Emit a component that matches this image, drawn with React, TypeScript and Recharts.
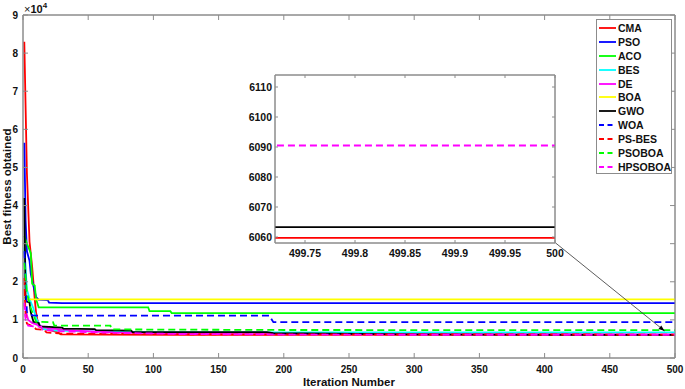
import { LineChart, Line, XAxis, YAxis, ReferenceLine, ReferenceArea } from "recharts";

// convergence curves: [iteration, best fitness]
const cma: [number, number][] = [
  [1, 83000], [3, 48500], [5, 30500], [7, 24000], [9, 15500], [10, 12000], [11, 10000],
  [13, 8200], [16, 7600], [22, 7200], [27, 6700], [29, 6200], [60, 6150], [120, 6100],
  [200, 6070], [300, 6062], [499, 6059.7], [500, 6059.7],
];
const pso: [number, number][] = [
  [1, 56500], [2, 36000], [3, 28000], [5, 25500], [6, 22000], [8, 19000], [10, 16000],
  [12, 15300], [19, 15200], [20, 14500], [30, 14400], [500, 14400],
];
const aco: [number, number][] = [
  [1, 32000], [3, 30000], [6, 27500], [7, 19500], [9, 19000], [10, 15500], [12, 13300],
  [96, 13300], [97, 12300], [113, 12300], [114, 11800], [500, 11800],
];
const bes: [number, number][] = [
  [1, 29000], [3, 18000], [5, 15500], [8, 13000], [10, 10500], [13, 8500], [16, 7600],
  [25, 7200], [60, 6900], [100, 6750], [200, 6700], [500, 6700],
];
const de: [number, number][] = [
  [1, 14000], [2, 12500], [4, 10000], [7, 9200], [10, 8800], [14, 8300], [20, 7800],
  [40, 7200], [70, 6700], [120, 6400], [200, 6250], [500, 6200],
];
const boa: [number, number][] = [[1, 16000], [3, 15400], [500, 15400]];
const gwo: [number, number][] = [
  [1, 42000], [2, 15000], [5, 14500], [6, 12000], [8, 9500], [12, 9200], [13, 8300],
  [30, 8000], [31, 7700], [55, 7600], [56, 7300], [83, 7200], [84, 6800], [187, 6800],
  [192, 6500], [300, 6200], [400, 6100], [499, 6063.3], [500, 6063.3],
];
const woa: [number, number][] = [
  [1, 28000], [2, 20000], [3, 12000], [5, 11500], [8, 11100], [189, 11100], [190, 10500],
  [192, 9400], [500, 9400],
];
const psBes: [number, number][] = [
  [1, 21000], [2, 11000], [3, 9000], [8, 8200], [10, 7600], [16, 7400], [18, 6700],
  [30, 6400], [100, 6250], [200, 6200], [500, 6150],
];
const psoboa: [number, number][] = [
  [1, 25000], [3, 17000], [6, 13000], [9, 10500], [10, 9500], [23, 9400], [24, 8500],
  [67, 8500], [68, 7500], [200, 7350], [500, 7300],
];
const hpsoboa: [number, number][] = [
  [1, 14500], [2, 10000], [4, 8500], [8, 8300], [14, 8200], [15, 7400], [30, 7000],
  [70, 6600], [120, 6300], [200, 6150], [300, 6100], [499, 6090.5], [500, 6090.5],
];

const seriesValues = [cma, pso, aco, bes, de, boa, gwo, woa, psBes, psoboa, hpsoboa];
const seriesNames = ["CMA", "PSO", "ACO", "BES", "DE", "BOA", "GWO", "WOA", "PS-BES", "PSOBOA", "HPSOBOA"];
const seriesColors = [
  "#ff0000", "#0000ff", "#00ff00", "#00ffff", "#ff00ff", "#ffff00", "#000000",
  "#0000ff", "#ff0000", "#00ff00", "#ff00ff",
];
const seriesDashed = [false, false, false, false, false, false, false, true, true, true, true];

const xTicks = [0, 50, 100, 150, 200, 250, 300, 350, 400, 450, 500];
const yTicks = [0, 10000, 20000, 30000, 40000, 50000, 60000, 70000, 80000, 90000];
const xDomain = [0, 500];
const yDomain = [0, 90000];
const zoomXTicks = [499.75, 499.8, 499.85, 499.9, 499.95, 500];
const zoomYTicks = [6060, 6070, 6080, 6090, 6100, 6110];
const zoomXDomain = [499.72, 500];
const zoomYDomain = [6058, 6114];

// arrow from the inset corner to the zoomed region
const arrowFrom = { x: 408, y: 30300 };
const arrowTo = { x: 492, y: 7100 };

const FONT = '"Liberation Sans", Arial, Helvetica, sans-serif';
const AXIS = "#8c8c8c";
const tickStyle = { fill: "#111", fontSize: 10, fontWeight: 700, fontFamily: FONT };
const zoomTickStyle = { ...tickStyle, fontSize: 10.5 };

const series = seriesValues.map((vals, i) => ({
  name: seriesNames[i],
  color: seriesColors[i],
  dashed: seriesDashed[i],
  data: vals.map(([x, y]) => ({ x, y })),
}));

const ArrowShape = (props: any) => {
  const { x1, y1, x2, y2 } = props;
  const a = Math.atan2(y2 - y1, x2 - x1);
  const L = 6;
  const W = 2.2;
  const bx = x2 - L * Math.cos(a);
  const by = y2 - L * Math.sin(a);
  const px = -Math.sin(a) * W;
  const py = Math.cos(a) * W;
  return (
    <g>
      <line x1={x1} y1={y1} x2={x2} y2={y2} stroke="#333" strokeWidth={0.8} />
      <polygon points={`${x2},${y2} ${bx + px},${by + py} ${bx - px},${by - py}`} fill="#000" />
    </g>
  );
};

function renderLines() {
  return series.map((s) => (
    <Line
      key={s.name}
      data={s.data}
      dataKey="y"
      name={s.name}
      type="linear"
      stroke={s.color}
      strokeWidth={1.8}
      strokeDasharray={s.dashed ? "7 4" : undefined}
      dot={false}
      activeDot={false}
      isAnimationActive={false}
    />
  ));
}

// MATLAB-style box: top and right axes with inward ticks and no labels
function boxAxes(xd: number[], xt: number[], yd: number[], yt: number[], size: number) {
  return [
    <XAxis
      key="top"
      xAxisId="top"
      orientation="top"
      dataKey="x"
      type="number"
      domain={xd}
      allowDataOverflow
      ticks={xt}
      interval={0}
      height={1}
      stroke={AXIS}
      tickSize={-size}
      tickFormatter={() => ""}
    />,
    <YAxis
      key="right"
      yAxisId="right"
      orientation="right"
      type="number"
      domain={yd}
      allowDataOverflow
      ticks={yt}
      interval={0}
      width={1}
      stroke={AXIS}
      tickSize={-size}
      tickFormatter={() => ""}
    />,
  ];
}

function Legend() {
  return (
    <div
      style={{
        position: "absolute",
        left: 596,
        top: 19,
        width: 74,
        height: 152,
        paddingTop: 1,
        border: `1px solid ${AXIS}`,
        background: "#fff",
        fontFamily: FONT,
        fontSize: 10.5,
        fontWeight: 700,
        color: "#111",
      }}
    >
      {series.map((s) => (
        <div key={s.name} style={{ height: 13.9, display: "flex", alignItems: "center" }}>
          <svg width={20} height={8} style={{ marginLeft: 1 }}>
            <line
              x1={1}
              y1={4}
              x2={18}
              y2={4}
              stroke={s.color}
              strokeWidth={1.8}
              strokeDasharray={s.dashed ? "5 3.5" : undefined}
            />
          </svg>
          <span>{s.name}</span>
        </div>
      ))}
    </div>
  );
}

export default function App() {
  return (
    <div style={{ position: "relative", width: 685, height: 389, background: "#fff", fontFamily: FONT }}>
      <style>{"body{margin:0}"}</style>
      <LineChart width={685} height={389} margin={{ top: 14, right: 9, bottom: 0, left: 0 }}>
        <XAxis
          dataKey="x"
          type="number"
          domain={xDomain}
          ticks={xTicks}
          interval={0}
          height={31}
          stroke={AXIS}
          tick={tickStyle}
          tickSize={-5}
          tickMargin={13}
          label={{
            value: "Iteration Number",
            position: "insideBottom",
            offset: 3,
            style: { fill: "#111", fontSize: 11.5, fontWeight: 700, fontFamily: FONT },
          }}
        />
        <YAxis
          type="number"
          domain={yDomain}
          ticks={yTicks}
          interval={0}
          width={23}
          stroke={AXIS}
          tick={tickStyle}
          tickSize={-5}
          tickMargin={10}
          tickFormatter={(v: number) => String(v / 10000)}
          label={{
            value: "Best fitness obtained",
            angle: -90,
            position: "insideLeft",
            offset: 7,
            style: { fill: "#111", fontSize: 11.5, fontWeight: 700, fontFamily: FONT, textAnchor: "middle" },
          }}
        />
        {boxAxes(xDomain, xTicks, yDomain, yTicks, 5)}
        <ReferenceArea
          x1={xDomain[0]}
          x2={xDomain[1]}
          y1={yDomain[0]}
          y2={yDomain[1]}
          fill="none"
          stroke={AXIS}
          strokeWidth={1}
          fillOpacity={0}
        />
        {renderLines()}
        <ReferenceLine segment={[arrowFrom, arrowTo]} shape={ArrowShape} ifOverflow="visible" />
      </LineChart>

      <div style={{ position: "absolute", left: 24, top: 1, fontSize: 11, color: "#111" }}>
        <span>×</span>
        <span style={{ fontWeight: 700 }}>10</span>
        <sup style={{ fontSize: 8, fontWeight: 700 }}>4</sup>
      </div>

      <div style={{ position: "absolute", left: 230, top: 70, width: 335, height: 193 }}>
        <LineChart width={335} height={193} margin={{ top: 4, right: 9, bottom: 0, left: 0 }}>
          <XAxis
            dataKey="x"
            type="number"
            domain={zoomXDomain}
            allowDataOverflow
            ticks={zoomXTicks}
            interval={0}
            height={20}
            stroke={AXIS}
            tick={zoomTickStyle}
            tickSize={-3}
            tickMargin={10}
          />
          <YAxis
            type="number"
            domain={zoomYDomain}
            allowDataOverflow
            ticks={zoomYTicks}
            interval={0}
            width={45}
            stroke={AXIS}
            tick={zoomTickStyle}
            tickSize={-3}
            tickMargin={6}
          />
          {boxAxes(zoomXDomain, zoomXTicks, zoomYDomain, zoomYTicks, 3)}
          <ReferenceArea
            x1={zoomXDomain[0]}
            x2={zoomXDomain[1]}
            y1={zoomYDomain[0]}
            y2={zoomYDomain[1]}
            fill="none"
            stroke={AXIS}
            strokeWidth={1}
            fillOpacity={0}
          />
          {renderLines()}
        </LineChart>
      </div>

      <Legend />
    </div>
  );
}
